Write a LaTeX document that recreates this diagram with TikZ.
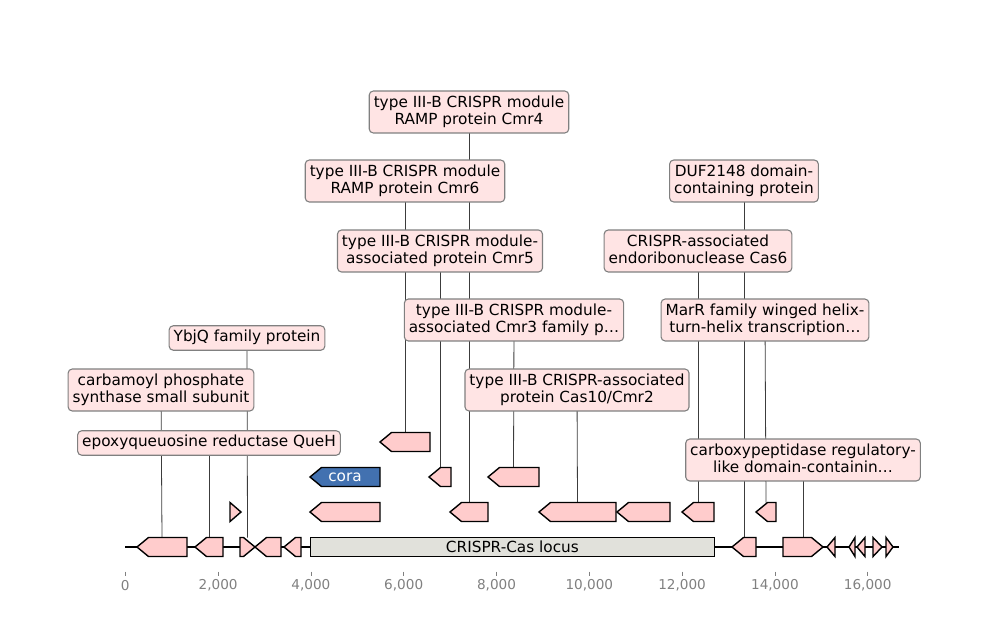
\documentclass[tikz,border=0pt]{standalone}
\usepackage{fontspec}
\setmainfont{DejaVu Sans}
\usetikzlibrary{backgrounds}
\definecolor{featpink}{RGB}{255,204,204}
\definecolor{lblfill}{RGB}{255,228,228}
\definecolor{lbldraw}{RGB}{128,128,128}
\definecolor{corablue}{RGB}{66,113,176}
\definecolor{locusgray}{RGB}{225,225,219}
\definecolor{tickgray}{RGB}{128,128,128}
\definecolor{conngray}{RGB}{60,60,60}
\newcommand{\mystrut}{\rule[-3.8pt]{0pt}{15.3pt}}
\newcommand{\featL}[5]{%
  \pgfmathsetmacro\hl{min(11.5,#3-#2)}%
  \draw[feat, fill=#5] (#2,#4) -- (#2+\hl,#4-9.5) -- (#3,#4-9.5) -- (#3,#4+9.5) -- (#2+\hl,#4+9.5) -- cycle;
  \coordinate (#1) at ({(#2+#3)/2},#4-9.5);}
\newcommand{\featR}[5]{%
  \pgfmathsetmacro\hl{min(11.5,#3-#2)}%
  \draw[feat, fill=#5] (#2,#4-9.5) -- (#3-\hl,#4-9.5) -- (#3,#4) -- (#3-\hl,#4+9.5) -- (#2,#4+9.5) -- cycle;
  \coordinate (#1) at ({(#2+#3)/2},#4-9.5);}
\begin{document}
\begin{tikzpicture}[x=1pt,y=-1pt,
  feat/.style={draw=black, line width=1.4pt, line join=miter},
  lbl/.style={draw=lbldraw, fill=lblfill, rounded corners=4pt, line width=1.1pt,
    inner xsep=4.5pt, inner ysep=4.5pt, align=center,
    font=\fontsize{15.3}{17.5}\selectfont},
  conn/.style={draw=conngray, line width=0.8pt},
  ticklbl/.style={text=tickgray, font=\fontsize{13.6}{16}\selectfont, inner sep=0pt},
  tickmark/.style={draw=tickgray, line width=0.8pt}]
\useasboundingbox (0,0) rectangle (1000,640);

% main track line
\coordinate (trackL) at (125,547);
\coordinate (trackR) at (899,547);
\draw[line width=2pt] (trackL) -- (trackR);

% main track features
\featL{m1}{137}{187}{547}{featpink}
\featL{m2}{195}{223}{547}{featpink}
\featR{m3}{240}{255}{547}{featpink}
\featL{m4}{255}{281}{547}{featpink}
\featL{m5}{284}{301}{547}{featpink}
\node[feat, fill=locusgray, minimum width=403.8pt, minimum height=19pt, inner sep=0pt,
  font=\fontsize{15.3}{17.5}\selectfont] (locus) at (512.4,547) {CRISPR-Cas locus};
\featL{m6}{732}{756}{547}{featpink}
\featR{m7}{783}{823}{547}{featpink}
\featL{m8}{827}{835}{547}{featpink}
\featL{m9}{849}{855}{547}{featpink}
\featL{m10}{857}{865}{547}{featpink}
\featR{m11}{873}{882}{547}{featpink}
\featR{m12}{886}{893}{547}{featpink}

% level 1
\featR{a1}{230}{241}{512}{featpink}
\featL{a2}{310}{380}{512}{featpink}
\featL{a3}{450}{488}{512}{featpink}
\featL{a4}{539}{616}{512}{featpink}
\featL{a5}{617}{670}{512}{featpink}
\featL{a6}{682}{714}{512}{featpink}
\featL{a7}{756}{776}{512}{featpink}

% level 2
\featL{cora}{310}{380}{477}{corablue}
\node[text=white, font=\fontsize{15.3}{17.5}\selectfont, inner sep=0pt] (coralbl) at (345,477) {cora};
\featL{b2}{429}{451}{477}{featpink}
\featL{b3}{488}{539}{477}{featpink}

% level 3
\featL{c1}{380}{430}{442}{featpink}

% labels
\node[lbl] (cmr4) at (469,112) {\mystrut type III-B CRISPR module\\\mystrut RAMP protein Cmr4};
\node[lbl] (cmr6) at (405,181) {\mystrut type III-B CRISPR module\\\mystrut RAMP protein Cmr6};
\node[lbl] (cmr5) at (440,251) {\mystrut type III-B CRISPR module-\\\mystrut associated protein Cmr5};
\node[lbl] (cmr3) at (514,320) {\mystrut type III-B CRISPR module-\\\mystrut associated Cmr3 family p…};
\node[lbl] (cas10) at (577,390) {\mystrut type III-B CRISPR-associated\\\mystrut protein Cas10/Cmr2};
\node[lbl] (duf) at (744,181) {\mystrut DUF2148 domain-\\\mystrut containing protein};
\node[lbl] (cas6) at (698,251) {\mystrut CRISPR-associated\\\mystrut endoribonuclease Cas6};
\node[lbl] (marr) at (765,320) {\mystrut MarR family winged helix-\\\mystrut turn-helix transcription…};
\node[lbl] (carboxy) at (803,460) {\mystrut carboxypeptidase regulatory-\\\mystrut like domain-containin…};
\node[lbl] (ybjq) at (247,338) {\mystrut YbjQ family protein};
\node[lbl] (carb) at (161,390) {\mystrut carbamoyl phosphate\\\mystrut synthase small subunit};
\node[lbl] (epoxy) at (209,443) {\mystrut epoxyqueuosine reductase QueH};

% connectors (behind labels)
\begin{scope}[on background layer]
\draw[conn] (a3) -- (cmr4.center);
\draw[conn] (c1) -- (cmr6.center);
\draw[conn] (b2) -- (cmr5.center);
\draw[conn] (b3) -- (cmr3.center);
\draw[conn] (a4) -- (cas10.center);
\draw[conn] (m6) -- (duf.center);
\draw[conn] (a6) -- (cas6.center);
\draw[conn] (a7) -- (marr.center);
\draw[conn] (m7) -- (carboxy.center);
\draw[conn] (m3) -- (ybjq.center);
\draw[conn] (m1) -- (carb.center);
\draw[conn] (m2) -- (epoxy.center);
\end{scope}

% axis
\foreach \k/\t in {0/0,1/{2,000},2/{4,000},3/{6,000},4/{8,000},5/{10,000},6/{12,000},7/{14,000},8/{16,000}}{
  \pgfmathsetmacro\xx{125.3+92.8*\k}
  \coordinate (tickTop\k) at (\xx,571.5);
  \coordinate (tickBot\k) at (\xx,575.5);
  \draw[tickmark] (tickTop\k) -- (tickBot\k);
  \node[ticklbl] (tick\k) at (\xx,585.5) {\t};
}
\end{tikzpicture}
\end{document}
